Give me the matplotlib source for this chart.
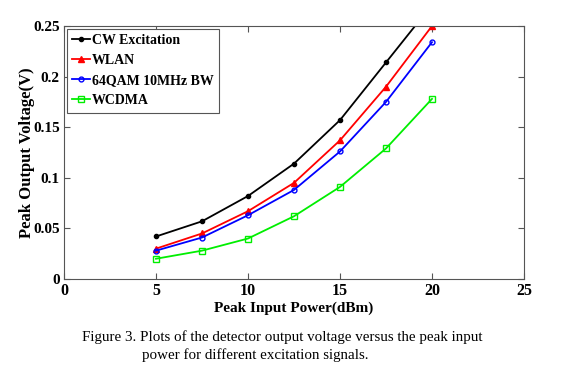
import matplotlib
matplotlib.use("Agg")
import matplotlib.pyplot as plt

x = [5, 7.5, 10, 12.5, 15, 17.5, 20]
cw = [0.042, 0.057, 0.082, 0.114, 0.157, 0.214, 0.271]
wlan = [0.030, 0.045, 0.067, 0.095, 0.137, 0.190, 0.250]
qam = [0.028, 0.041, 0.063, 0.088, 0.126, 0.175, 0.234]
wcdma = [0.020, 0.028, 0.040, 0.062, 0.091, 0.129, 0.178]
labels = ["CW Excitation", "WLAN", "64QAM 10MHz BW", "WCDMA"]
xticks = [0, 5, 10, 15, 20, 25]
yticks = [0, 0.05, 0.1, 0.15, 0.2, 0.25]
ytick_labels = ["0", "0.05", "0.1", "0.15", "0.2", "0.25"]
caption1 = "Figure 3. Plots of the detector output voltage versus the peak input"
caption2 = "power for different excitation signals."

plt.rcParams['font.family'] = ['Liberation Serif', 'DejaVu Serif']

fig = plt.figure(figsize=(5.73, 3.74), dpi=100)
ax = fig.add_axes([64/573, 1-279/374, (524-64)/573, (279-26)/374])

ax.plot(x, cw, color='black', marker='o', ms=3, lw=1.3, label=labels[0])
ax.plot(x, wlan, color='red', marker='^', ms=4, lw=1.3, label=labels[1])
ax.plot(x, qam, color='blue', marker='o', ms=3.5, mfc='none', mew=1, lw=1.3, label=labels[2])
ax.plot(x, wcdma, color='#00ee00', marker='s', ms=4, mfc='none', mew=1, lw=1.3, label=labels[3])

ax.set_xlim(0, 25)
ax.set_ylim(0, 0.25)
ax.set_xticks(xticks)
ax.set_xticklabels([str(t) for t in xticks], fontweight='bold', fontsize=11.5)
ax.set_yticks(yticks)
ax.set_yticklabels(ytick_labels, fontweight='bold', fontsize=11)
ax.tick_params(direction='in', top=True, right=True, length=4, width=0.8, color='#555555', pad=3)
for s in ax.spines.values():
    s.set_color('#555555')
    s.set_linewidth(0.8)

ax.set_xlabel("Peak Input Power(dBm)", fontweight='bold', fontsize=11, labelpad=2)
ax.set_ylabel("Peak Output Voltage(V)", fontweight='bold', fontsize=12)
ax.yaxis.set_label_coords((35-64)/460, 0.5)

leg = ax.legend(loc='upper left', prop={'weight': 'bold', 'size': 10},
                handlelength=1.3, handletextpad=0.1, borderpad=0.4, labelspacing=0.5,
                fancybox=False, framealpha=1, borderaxespad=0.2)
leg.get_frame().set_edgecolor('#555555')
leg.get_frame().set_linewidth(0.8)

fig.text(82/573, 1-337/374, caption1, fontsize=10.8, ha='left', va='center')
fig.text(142/573, 1-355/374, caption2, fontsize=10.8, ha='left', va='center')

fig.savefig("out.png", dpi=100)
